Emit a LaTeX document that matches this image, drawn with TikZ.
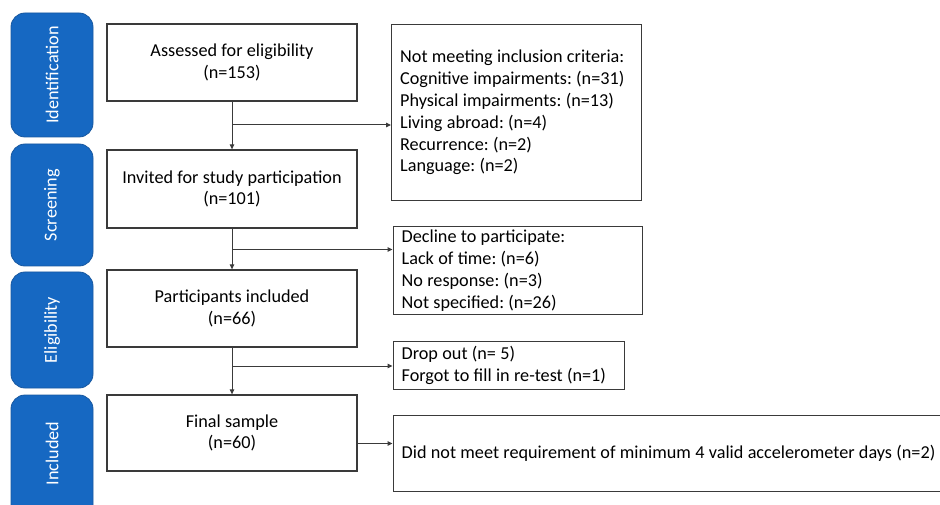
\documentclass[tikz,border=0pt]{standalone}
\usepackage{fontspec}
\setmainfont{Carlito}[WordSpace=1.05]
\frenchspacing
\usetikzlibrary{arrows.meta}
\definecolor{stageblue}{HTML}{1668C2}
\definecolor{stageedge}{HTML}{1858A0}
\definecolor{boxline}{HTML}{3A3A3A}
\begin{document}
\begin{tikzpicture}[x=1pt,y=-1pt,
  txt/.style={font=\fontsize{18.2}{21.8}\selectfont},
  stagebar/.style={draw=stageedge,fill=stageblue,line width=0.8pt,rounded corners=14pt,
     minimum width=82pt,inner sep=0pt},
  stagetext/.style={txt,text=white,rotate=90},
  mainbox/.style={draw=boxline,line width=1.3pt,txt,align=flush center,minimum width=250pt,
     minimum height=77pt,inner sep=0pt},
  sidebox/.style={draw=boxline,line width=1.3pt,txt,align=flush left,anchor=north west,inner xsep=8.5pt,inner ysep=0pt},
  flow/.style={draw=boxline,line width=1pt,-{Triangle[length=5pt,width=4.5pt]}}]
\clip (0,0) rectangle (940,505);
\fill[white] (0,0) rectangle (940,505);
% stage bars
\node[stagebar,minimum height=124pt] (s1) at (52,75) {};
\node[stagetext] (t1) at (s1.center) {Identification};
\node[stagebar,minimum height=122pt] (s2) at (52,205) {};
\node[stagetext] (t2) at (s2.center) {Screening};
\node[stagebar,minimum height=116pt] (s3) at (52,330) {};
\node[stagetext] (t3) at (s3.center) {Eligibility};
\node[stagebar,minimum height=140pt] (s4) at (52,465) {};
\node[stagetext] (t4) at (52,453.5) {Included};
% main boxes
\node[mainbox] (m1) at (232,62.5) {Assessed for eligibility\\(n=153)};
\node[mainbox,minimum height=78pt] (m2) at (232,189) {Invited for study participation\\(n=101)};
\node[mainbox] (m3) at (232,308.5) {Participants included\\(n=66)};
\node[mainbox,minimum height=76pt] (m4) at (232,433) {Final sample\\(n=60)};
% side boxes
\node[sidebox,minimum width=250pt,minimum height=176pt,text width=233pt] (r1) at (391,24)
 {Not meeting inclusion criteria:\\Cognitive impairments: (n=31)\\Physical impairments: (n=13)\\Living abroad: (n=4)\\Recurrence: (n=2)\\Language: (n=2)};
\node[sidebox,minimum width=249.5pt,minimum height=88pt,text width=232.5pt] (r2) at (392.5,226)
 {Decline to participate:\\Lack of time: (n=6)\\No response: (n=3)\\Not specified: (n=26)};
\node[sidebox,minimum width=231pt,minimum height=48pt,text width=214pt] (r3) at (392.5,341)
 {Drop out (n= 5)\\Forgot to fill in re-test (n=1)};
\node[sidebox,minimum width=580pt,minimum height=76pt,text width=563pt] (r4) at (392.5,415)
 {Did not meet requirement of minimum 4 valid accelerometer days (n=2)};
% connectors
\coordinate (b1) at (232,125);
\coordinate (b2) at (232,249.5);
\coordinate (b3) at (232,366);
\coordinate (b4) at (m4.east |- 0,443.5);
\draw[flow] (m1) -- (m2);
\draw[flow] (m2) -- (m3);
\draw[flow] (m3) -- (m4);
\draw[flow] (b1) -- (b1 -| r1.west);
\draw[flow] (b2) -- (b2 -| r2.west);
\draw[flow] (b3) -- (b3 -| r3.west);
\draw[flow] (b4) -- (b4 -| r4.west);
\end{tikzpicture}
\end{document}
